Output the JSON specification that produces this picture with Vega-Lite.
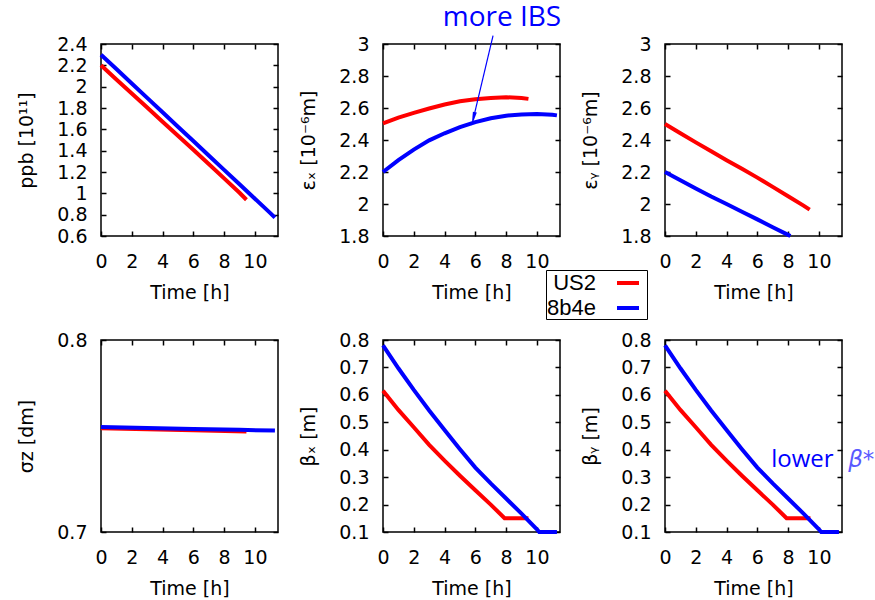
{
  "$schema": "https://vega.github.io/schema/vega-lite/v6.json",
  "background": "white",
  "padding": {"left": 17, "top": 3, "right": 0, "bottom": 0},
  "config": {
    "view": {"stroke": "black", "strokeWidth": 1.5},
    "axis": {"grid": false, "domain": false, "ticks": true, "tickColor": "black", "tickWidth": 1.5, "tickSize": 5, "offset": -5,
      "labelOverlap": false, "labelFont": "DejaVu Sans", "labelFontSize": 19, "labelColor": "black",
      "titleFont": "DejaVu Sans", "titleFontSize": 19, "titleFontWeight": "normal", "titleColor": "black", "labelFlush": false},
    "axisX": {"labelPadding": 16, "labelDx": 3, "titlePadding": 12},
    "axisY": {"labelPadding": 14, "titlePadding": 20},
    "line": {"strokeWidth": 4, "strokeCap": "butt"}
  },
  "datasets": {
    "ppb": [
      {"beam": "US2", "t": 0, "v": 2.2}, {"beam": "US2", "t": 1, "v": 2.068}, {"beam": "US2", "t": 2, "v": 1.936},
      {"beam": "US2", "t": 3, "v": 1.804}, {"beam": "US2", "t": 4, "v": 1.672}, {"beam": "US2", "t": 5, "v": 1.54},
      {"beam": "US2", "t": 6, "v": 1.408}, {"beam": "US2", "t": 7, "v": 1.275}, {"beam": "US2", "t": 8, "v": 1.14},
      {"beam": "US2", "t": 9, "v": 1.005}, {"beam": "US2", "t": 9.45, "v": 0.94},
      {"beam": "8b4e", "t": 0, "v": 2.3}, {"beam": "8b4e", "t": 1, "v": 2.165}, {"beam": "8b4e", "t": 2, "v": 2.03},
      {"beam": "8b4e", "t": 3, "v": 1.895}, {"beam": "8b4e", "t": 4, "v": 1.76}, {"beam": "8b4e", "t": 5, "v": 1.625},
      {"beam": "8b4e", "t": 6, "v": 1.49}, {"beam": "8b4e", "t": 7, "v": 1.355}, {"beam": "8b4e", "t": 8, "v": 1.22},
      {"beam": "8b4e", "t": 9, "v": 1.085}, {"beam": "8b4e", "t": 10, "v": 0.95}, {"beam": "8b4e", "t": 11, "v": 0.815},
      {"beam": "8b4e", "t": 11.3, "v": 0.772}
    ],
    "ex": [
      {"beam": "US2", "t": 0, "v": 2.504}, {"beam": "US2", "t": 1, "v": 2.54}, {"beam": "US2", "t": 2, "v": 2.57},
      {"beam": "US2", "t": 3, "v": 2.597}, {"beam": "US2", "t": 4, "v": 2.622}, {"beam": "US2", "t": 5, "v": 2.642},
      {"beam": "US2", "t": 6, "v": 2.655}, {"beam": "US2", "t": 7, "v": 2.663}, {"beam": "US2", "t": 8, "v": 2.667},
      {"beam": "US2", "t": 9, "v": 2.663}, {"beam": "US2", "t": 9.45, "v": 2.657},
      {"beam": "8b4e", "t": 0, "v": 2.2}, {"beam": "8b4e", "t": 1, "v": 2.274}, {"beam": "8b4e", "t": 2, "v": 2.34},
      {"beam": "8b4e", "t": 3, "v": 2.398}, {"beam": "8b4e", "t": 4, "v": 2.442}, {"beam": "8b4e", "t": 5, "v": 2.48},
      {"beam": "8b4e", "t": 6, "v": 2.512}, {"beam": "8b4e", "t": 7, "v": 2.536}, {"beam": "8b4e", "t": 8, "v": 2.552},
      {"beam": "8b4e", "t": 9, "v": 2.56}, {"beam": "8b4e", "t": 10, "v": 2.563}, {"beam": "8b4e", "t": 11, "v": 2.558},
      {"beam": "8b4e", "t": 11.3, "v": 2.554}
    ],
    "ey": [
      {"beam": "US2", "t": 0, "v": 2.5}, {"beam": "US2", "t": 1, "v": 2.442}, {"beam": "US2", "t": 2, "v": 2.385},
      {"beam": "US2", "t": 3, "v": 2.33}, {"beam": "US2", "t": 4, "v": 2.274}, {"beam": "US2", "t": 5, "v": 2.22},
      {"beam": "US2", "t": 6, "v": 2.165}, {"beam": "US2", "t": 7, "v": 2.107}, {"beam": "US2", "t": 8, "v": 2.048},
      {"beam": "US2", "t": 9, "v": 1.99}, {"beam": "US2", "t": 9.4, "v": 1.965},
      {"beam": "8b4e", "t": 0, "v": 2.2}, {"beam": "8b4e", "t": 1, "v": 2.148}, {"beam": "8b4e", "t": 2, "v": 2.097},
      {"beam": "8b4e", "t": 3, "v": 2.047}, {"beam": "8b4e", "t": 4, "v": 2.0}, {"beam": "8b4e", "t": 5, "v": 1.952},
      {"beam": "8b4e", "t": 6, "v": 1.904}, {"beam": "8b4e", "t": 7, "v": 1.855}, {"beam": "8b4e", "t": 8, "v": 1.807},
      {"beam": "8b4e", "t": 8.15, "v": 1.8}
    ],
    "sz": [
      {"beam": "US2", "t": 0, "v": 0.754}, {"beam": "US2", "t": 3, "v": 0.7535}, {"beam": "US2", "t": 6, "v": 0.753},
      {"beam": "US2", "t": 9.45, "v": 0.7523},
      {"beam": "8b4e", "t": 0, "v": 0.7547}, {"beam": "8b4e", "t": 3, "v": 0.7542}, {"beam": "8b4e", "t": 6, "v": 0.7537},
      {"beam": "8b4e", "t": 9, "v": 0.7532}, {"beam": "8b4e", "t": 11.3, "v": 0.7528}
    ],
    "beta": [
      {"beam": "US2", "t": 0, "v": 0.615}, {"beam": "US2", "t": 1, "v": 0.545}, {"beam": "US2", "t": 2, "v": 0.482},
      {"beam": "US2", "t": 3, "v": 0.418}, {"beam": "US2", "t": 4, "v": 0.36}, {"beam": "US2", "t": 5, "v": 0.305},
      {"beam": "US2", "t": 6, "v": 0.252}, {"beam": "US2", "t": 7, "v": 0.2}, {"beam": "US2", "t": 7.9, "v": 0.15},
      {"beam": "US2", "t": 9.45, "v": 0.15},
      {"beam": "8b4e", "t": 0, "v": 0.78}, {"beam": "8b4e", "t": 1, "v": 0.697}, {"beam": "8b4e", "t": 2, "v": 0.618},
      {"beam": "8b4e", "t": 3, "v": 0.543}, {"beam": "8b4e", "t": 4, "v": 0.472}, {"beam": "8b4e", "t": 5, "v": 0.402},
      {"beam": "8b4e", "t": 6, "v": 0.335}, {"beam": "8b4e", "t": 7, "v": 0.277}, {"beam": "8b4e", "t": 8, "v": 0.222},
      {"beam": "8b4e", "t": 9, "v": 0.167}, {"beam": "8b4e", "t": 10, "v": 0.11}, {"beam": "8b4e", "t": 10.15, "v": 0.1},
      {"beam": "8b4e", "t": 11.3, "v": 0.1}
    ]
  },
  "columns": 3,
  "spacing": {"row": 104, "column": 105},
  "bounds": "flush",
  "resolve": {"scale": {"color": "independent"}, "legend": {"color": "independent"}},
  "concat": [
    {
      "width": 177, "height": 192,
      "data": {"name": "ppb"},
      "resolve": {"axis": {"x": "independent", "y": "independent"}},
      "layer": [
        {"mark": {"type": "line", "opacity": 0},
         "encoding": {
           "x": {"field": "t", "type": "quantitative", "scale": {"domain": [0, 11.5], "nice": false, "zero": false}, "axis": {"orient": "top", "labels": false, "title": null, "values": [0, 2, 4, 6, 8, 10]}},
           "y": {"field": "v", "type": "quantitative", "scale": {"domain": [0.6, 2.4], "nice": false, "zero": false}, "axis": {"orient": "right", "labels": false, "title": null, "values": [0.6, 0.8, 1, 1.2, 1.4, 1.6, 1.8, 2, 2.2, 2.4]}},
           "detail": {"field": "beam"}}},
        {"mark": {"type": "line"},
         "encoding": {
           "x": {"field": "t", "type": "quantitative", "scale": {"domain": [0, 11.5], "nice": false, "zero": false}, "axis": {"orient": "bottom", "title": "Time [h]", "values": [0, 2, 4, 6, 8, 10], "format": "~r"}},
           "y": {"field": "v", "type": "quantitative", "scale": {"domain": [0.6, 2.4], "nice": false, "zero": false}, "axis": {"orient": "left", "title": "ppb [10¹¹]", "values": [0.6, 0.8, 1, 1.2, 1.4, 1.6, 1.8, 2, 2.2, 2.4], "format": "~r"}},
           "color": {"field": "beam", "type": "nominal", "scale": {"domain": ["US2", "8b4e"], "range": ["#ff0000", "#0000ff"]}, "legend": null}}}
      ]
    },
    {
      "width": 177, "height": 192,
      "resolve": {"axis": {"x": "independent", "y": "independent"}},
      "layer": [
        {"data": {"name": "ex"},
         "mark": {"type": "line", "opacity": 0},
         "encoding": {
           "x": {"field": "t", "type": "quantitative", "scale": {"domain": [0, 11.5], "nice": false, "zero": false}, "axis": {"orient": "top", "labels": false, "title": null, "values": [0, 2, 4, 6, 8, 10]}},
           "y": {"field": "v", "type": "quantitative", "scale": {"domain": [1.8, 3], "nice": false, "zero": false}, "axis": {"orient": "right", "labels": false, "title": null, "values": [1.8, 2, 2.2, 2.4, 2.6, 2.8, 3]}},
           "detail": {"field": "beam"}}},
        {"data": {"name": "ex"},
         "mark": {"type": "line"},
         "encoding": {
           "x": {"field": "t", "type": "quantitative", "scale": {"domain": [0, 11.5], "nice": false, "zero": false}, "axis": {"orient": "bottom", "title": "Time [h]", "values": [0, 2, 4, 6, 8, 10], "format": "~r"}},
           "y": {"field": "v", "type": "quantitative", "scale": {"domain": [1.8, 3], "nice": false, "zero": false}, "axis": {"orient": "left", "title": "εₓ [10⁻⁶m]", "values": [1.8, 2, 2.2, 2.4, 2.6, 2.8, 3], "format": "~r"}},
           "color": {"field": "beam", "type": "nominal", "scale": {"domain": ["US2", "8b4e"], "range": ["#ff0000", "#0000ff"]},
             "legend": {"orient": "none", "legendX": 163, "legendY": 226, "title": null, "direction": "vertical",
               "symbolType": "stroke", "symbolSize": 484, "symbolStrokeWidth": 4,
               "labelFont": "Liberation Sans", "labelFontSize": 22, "labelColor": "black",
               "strokeColor": "black", "fillColor": "white", "padding": 0, "rowPadding": 1,
               "symbolOffset": 69, "labelOffset": -45, "labelAlign": "right"}}}},
        {"data": {"values": [{"t": 7.15, "v": 3.053, "t2": 5.9, "v2": 2.546}]},
         "mark": {"type": "rule", "color": "#0000ff", "strokeWidth": 1.2},
         "encoding": {"x": {"field": "t", "type": "quantitative", "axis": null}, "y": {"field": "v", "type": "quantitative", "axis": null}, "x2": {"field": "t2"}, "y2": {"field": "v2"}}},
        {"data": {"values": [{"t": 5.9, "v": 2.546}]},
         "mark": {"type": "point", "shape": "wedge", "size": 260, "angle": 193, "filled": true, "color": "#0000ff", "opacity": 1},
         "encoding": {"x": {"field": "t", "type": "quantitative", "axis": null}, "y": {"field": "v", "type": "quantitative", "axis": null}}},
        {"data": {"values": [{"t": 7.73, "v": 3.111, "label": "more IBS"}]},
         "mark": {"type": "text", "font": "Open Sans", "fontSize": 28, "color": "#0000ff", "align": "center", "baseline": "alphabetic"},
         "encoding": {"x": {"field": "t", "type": "quantitative", "axis": null}, "y": {"field": "v", "type": "quantitative", "axis": null}, "text": {"field": "label"}}}
      ]
    },
    {
      "width": 177, "height": 192,
      "data": {"name": "ey"},
      "resolve": {"axis": {"x": "independent", "y": "independent"}},
      "layer": [
        {"mark": {"type": "line", "opacity": 0},
         "encoding": {
           "x": {"field": "t", "type": "quantitative", "scale": {"domain": [0, 11.5], "nice": false, "zero": false}, "axis": {"orient": "top", "labels": false, "title": null, "values": [0, 2, 4, 6, 8, 10]}},
           "y": {"field": "v", "type": "quantitative", "scale": {"domain": [1.8, 3], "nice": false, "zero": false}, "axis": {"orient": "right", "labels": false, "title": null, "values": [1.8, 2, 2.2, 2.4, 2.6, 2.8, 3]}},
           "detail": {"field": "beam"}}},
        {"mark": {"type": "line"},
         "encoding": {
           "x": {"field": "t", "type": "quantitative", "scale": {"domain": [0, 11.5], "nice": false, "zero": false}, "axis": {"orient": "bottom", "title": "Time [h]", "values": [0, 2, 4, 6, 8, 10], "format": "~r"}},
           "y": {"field": "v", "type": "quantitative", "scale": {"domain": [1.8, 3], "nice": false, "zero": false}, "axis": {"orient": "left", "title": "εᵧ [10⁻⁶m]", "values": [1.8, 2, 2.2, 2.4, 2.6, 2.8, 3], "format": "~r"}},
           "color": {"field": "beam", "type": "nominal", "scale": {"domain": ["US2", "8b4e"], "range": ["#ff0000", "#0000ff"]}, "legend": null}}}
      ]
    },
    {
      "width": 177, "height": 192,
      "data": {"name": "sz"},
      "resolve": {"axis": {"x": "independent", "y": "independent"}},
      "layer": [
        {"mark": {"type": "line", "opacity": 0},
         "encoding": {
           "x": {"field": "t", "type": "quantitative", "scale": {"domain": [0, 11.5], "nice": false, "zero": false}, "axis": {"orient": "top", "labels": false, "title": null, "values": [0, 2, 4, 6, 8, 10]}},
           "y": {"field": "v", "type": "quantitative", "scale": {"domain": [0.7, 0.8], "nice": false, "zero": false}, "axis": {"orient": "right", "labels": false, "title": null, "values": [0.7, 0.8]}},
           "detail": {"field": "beam"}}},
        {"mark": {"type": "line"},
         "encoding": {
           "x": {"field": "t", "type": "quantitative", "scale": {"domain": [0, 11.5], "nice": false, "zero": false}, "axis": {"orient": "bottom", "title": "Time [h]", "values": [0, 2, 4, 6, 8, 10], "format": "~r"}},
           "y": {"field": "v", "type": "quantitative", "scale": {"domain": [0.7, 0.8], "nice": false, "zero": false}, "axis": {"orient": "left", "title": "σz [dm]", "values": [0.7, 0.8], "format": "~r"}},
           "color": {"field": "beam", "type": "nominal", "scale": {"domain": ["US2", "8b4e"], "range": ["#ff0000", "#0000ff"]}, "legend": null}}}
      ]
    },
    {
      "width": 177, "height": 192,
      "data": {"name": "beta"},
      "resolve": {"axis": {"x": "independent", "y": "independent"}},
      "layer": [
        {"mark": {"type": "line", "opacity": 0},
         "encoding": {
           "x": {"field": "t", "type": "quantitative", "scale": {"domain": [0, 11.5], "nice": false, "zero": false}, "axis": {"orient": "top", "labels": false, "title": null, "values": [0, 2, 4, 6, 8, 10]}},
           "y": {"field": "v", "type": "quantitative", "scale": {"domain": [0.1, 0.8], "nice": false, "zero": false}, "axis": {"orient": "right", "labels": false, "title": null, "values": [0.1, 0.2, 0.3, 0.4, 0.5, 0.6, 0.7, 0.8]}},
           "detail": {"field": "beam"}}},
        {"mark": {"type": "line"},
         "encoding": {
           "x": {"field": "t", "type": "quantitative", "scale": {"domain": [0, 11.5], "nice": false, "zero": false}, "axis": {"orient": "bottom", "title": "Time [h]", "values": [0, 2, 4, 6, 8, 10], "format": "~r"}},
           "y": {"field": "v", "type": "quantitative", "scale": {"domain": [0.1, 0.8], "nice": false, "zero": false}, "axis": {"orient": "left", "title": "βₓ [m]", "values": [0.1, 0.2, 0.3, 0.4, 0.5, 0.6, 0.7, 0.8], "format": "~r"}},
           "color": {"field": "beam", "type": "nominal", "scale": {"domain": ["US2", "8b4e"], "range": ["#ff0000", "#0000ff"]}, "legend": null}}}
      ]
    },
    {
      "width": 177, "height": 192,
      "resolve": {"axis": {"x": "independent", "y": "independent"}},
      "layer": [
        {"data": {"name": "beta"},
         "mark": {"type": "line", "opacity": 0},
         "encoding": {
           "x": {"field": "t", "type": "quantitative", "scale": {"domain": [0, 11.5], "nice": false, "zero": false}, "axis": {"orient": "top", "labels": false, "title": null, "values": [0, 2, 4, 6, 8, 10]}},
           "y": {"field": "v", "type": "quantitative", "scale": {"domain": [0.1, 0.8], "nice": false, "zero": false}, "axis": {"orient": "right", "labels": false, "title": null, "values": [0.1, 0.2, 0.3, 0.4, 0.5, 0.6, 0.7, 0.8]}},
           "detail": {"field": "beam"}}},
        {"data": {"name": "beta"},
         "mark": {"type": "line"},
         "encoding": {
           "x": {"field": "t", "type": "quantitative", "scale": {"domain": [0, 11.5], "nice": false, "zero": false}, "axis": {"orient": "bottom", "title": "Time [h]", "values": [0, 2, 4, 6, 8, 10], "format": "~r"}},
           "y": {"field": "v", "type": "quantitative", "scale": {"domain": [0.1, 0.8], "nice": false, "zero": false}, "axis": {"orient": "left", "title": "βᵧ [m]", "values": [0.1, 0.2, 0.3, 0.4, 0.5, 0.6, 0.7, 0.8], "format": "~r"}},
           "color": {"field": "beam", "type": "nominal", "scale": {"domain": ["US2", "8b4e"], "range": ["#ff0000", "#0000ff"]}, "legend": null}}},
        {"data": {"values": [{"t": 6.9, "v": 0.336, "label": "lower"}]},
         "mark": {"type": "text", "font": "Open Sans", "fontSize": 24, "color": "#0000ff", "align": "left", "baseline": "alphabetic"},
         "encoding": {"x": {"field": "t", "type": "quantitative", "axis": null}, "y": {"field": "v", "type": "quantitative", "axis": null}, "text": {"field": "label"}}},
        {"data": {"values": [{"t": 11.9, "v": 0.336, "label": "β*"}]},
         "mark": {"type": "text", "font": "DejaVu Sans", "fontSize": 23, "fontStyle": "italic", "color": "#5a5aff", "align": "left", "baseline": "alphabetic"},
         "encoding": {"x": {"field": "t", "type": "quantitative", "axis": null}, "y": {"field": "v", "type": "quantitative", "axis": null}, "text": {"field": "label"}}}
      ]
    }
  ]
}
